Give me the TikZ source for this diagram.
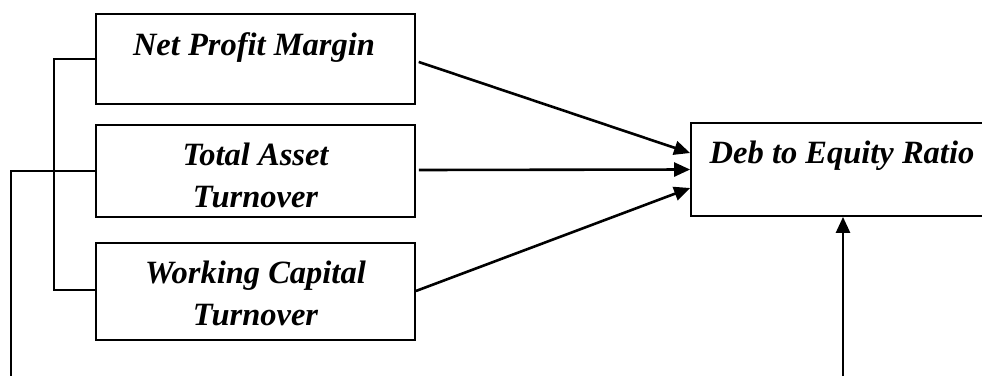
\documentclass[tikz,border=0pt]{standalone}
\usepackage{fontspec}
\setmainfont{Liberation Serif}
\usetikzlibrary{arrows.meta,calc}
\tikzset{
  box/.style={draw, line width=1.8pt, rectangle, inner sep=0pt},
  lbl/.style={anchor=base, inner sep=0pt, font=\fontsize{32.5}{38}\selectfont\bfseries\itshape},
  link/.style={line width=1.8pt},
  arr/.style={line width=2.6pt, -{Triangle[length=16pt,width=14pt]}}
}
\begin{document}
\begin{tikzpicture}[x=1pt,y=-1pt]
  \clip (0,0) rectangle (982,376);
  \fill[white] (0,0) rectangle (982,376);

  % variable boxes
  \node[box, minimum width=319pt, minimum height=90pt] (npm) at (255.5,59) {};
  \node[box, minimum width=319pt, minimum height=92pt] (tat) at (255.5,171) {};
  \node[box, minimum width=319pt, minimum height=97pt] (wct) at (255.5,291.5) {};
  \node[box, minimum width=310pt, minimum height=93pt] (der) at (846,169.5) {};

  % labels
  \node[lbl] (npmtxt) at (254,55) {Net Profit Margin};
  \node[lbl] (tattxt1) at (255.5,165) {Total Asset};
  \node[lbl] (tattxt2) at (255.5,207) {Turnover};
  \node[lbl] (wcttxt1) at (255.5,283) {Working Capital};
  \node[lbl] (wcttxt2) at (255.5,325) {Turnover};
  \node[lbl] (dertxt) at (842,163) {Deb to Equity Ratio};

  % bracket joining the three variables
  \coordinate (brk) at (54,59);
  \draw[link] (npm.west) -- (brk) |- (54,290) -- (wct.west |- 0,290);
  \draw[link] (tat.west) -- (tat.west -| brk);

  % long line down the left edge
  \coordinate (leftend) at (11,376);
  \draw[link] (tat.west) -| (leftend);

  % arrows into the dependent variable
  \draw[arr, shorten <=3pt] ($(npm.east)+(0,2)$) -- ($(der.west)+(0,-16.5)$);
  \draw[arr, shorten <=3pt] ($(tat.east)+(0,-1)$) -- (der.west);
  \draw[arr] ($(wct.east)+(0,-0.5)$) -- ($(der.west)+(0,18.5)$);

  % arrow coming up from below
  \coordinate (botend) at (843,376);
  \draw[arr] (botend) -- (botend |- der.south);
\end{tikzpicture}
\end{document}
